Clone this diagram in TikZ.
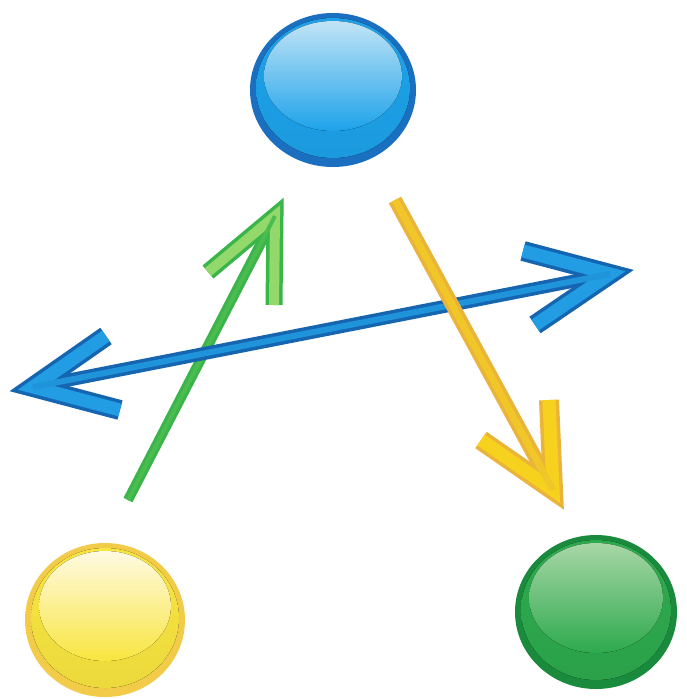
\documentclass[tikz,border=0pt]{standalone}
\usetikzlibrary{shapes.geometric}
\definecolor{bEdge}{HTML}{1A6FC0}
\definecolor{bMain}{HTML}{1DA2EA}
\definecolor{bLight}{HTML}{C2E4F6}
\definecolor{gEdge}{HTML}{1A8A3C}
\definecolor{gMain}{HTML}{2DAA4E}
\definecolor{gLight}{HTML}{A8D6A6}
\definecolor{yEdge}{HTML}{F2CC48}
\definecolor{yMain}{HTML}{F8E540}
\definecolor{yLight}{HTML}{FFFAE2}
\definecolor{gaOut}{HTML}{3AB54A}
\definecolor{gaIn}{HTML}{92D86A}
\definecolor{baOut}{HTML}{1565B0}
\definecolor{baIn}{HTML}{229CE2}
\definecolor{yaOut}{HTML}{EAB43A}
\definecolor{yaIn}{HTML}{F6D21E}
\tikzset{
  outerline/.style={line join=miter, miter limit=20, line cap=butt},
}
\newcommand{\glossy}[8]{%
  % #1 name, #2 x, #3 y, #4 rx, #5 ry, #6 edge, #7 main, #8 light
  \node[ellipse, minimum width=2*#4, minimum height=2*#5, inner sep=0pt, fill=#6] (#1) at (#2,#3) {};
  \fill[top color=#7, bottom color=#7!95!black] (#2,#3-2) ellipse [x radius=#4-6, y radius=#5-7];
  \fill[top color=#8, bottom color=#7, middle color=#8!50!#7] (#2,#3-14) ellipse [x radius=#4-14, y radius=#5-22];
}
\begin{document}
\begin{tikzpicture}[x=1pt,y=-1pt]
\useasboundingbox (0,0) rectangle (686,699);
\fill[white] (0,0) rectangle (686,699);

% spheres
\glossy{top}{333}{90}{83}{77}{bEdge}{bMain}{bLight}
\glossy{left}{105}{620}{80}{77}{yEdge}{yMain}{yLight}
\glossy{right}{596}{612}{81}{77}{gEdge}{gMain}{gLight}

% arrow coordinates
\coordinate (gT) at (128,500);
\coordinate (gA) at (275,216);
\coordinate (gB1) at (208,272);
\coordinate (gB2) at (274,305);

\coordinate (bL) at (33,387);
\coordinate (bR) at (610,274);
\coordinate (bL1) at (106,336);
\coordinate (bL2) at (120,410);
\coordinate (bR1) at (523,251);
\coordinate (bR2) at (535,325);

\coordinate (yT) at (395,200);
\coordinate (yA) at (553,490);
\coordinate (yB1) at (481,440);
\coordinate (yB2) at (549,400);

% green arrow
\draw[outerline, gaOut, line width=10] (gT) -- (gA);
\draw[outerline, gaOut, line width=17] (gB1) -- (gA) -- (gB2);
\draw[outerline, gaIn, line width=10] (gB1) -- (gA) -- (gB2);
\draw[outerline, gaOut!80!gaIn, line width=4] (gT) -- (gA);

% blue arrow
\draw[outerline, baOut, line width=13] (bL) -- (bR);
\draw[outerline, baOut, line width=20] (bL1) -- (bL) -- (bL2);
\draw[outerline, baOut, line width=20] (bR1) -- (bR) -- (bR2);
\draw[outerline, baIn, line width=13] (bL1) -- (bL) -- (bL2);
\draw[outerline, baIn, line width=13] (bR1) -- (bR) -- (bR2);
\draw[outerline, baIn!85!baOut, line width=6] (bL) -- (bR);

% yellow arrow
\draw[outerline, yaOut, line width=14] (yT) -- (yA);
\draw[outerline, yaOut, line width=20] (yB1) -- (yA) -- (yB2);
\draw[outerline, yaIn, line width=13] (yB1) -- (yA) -- (yB2);
\draw[outerline, yaIn!60!yaOut, line width=7] (yT) -- (yA);
\end{tikzpicture}
\end{document}
